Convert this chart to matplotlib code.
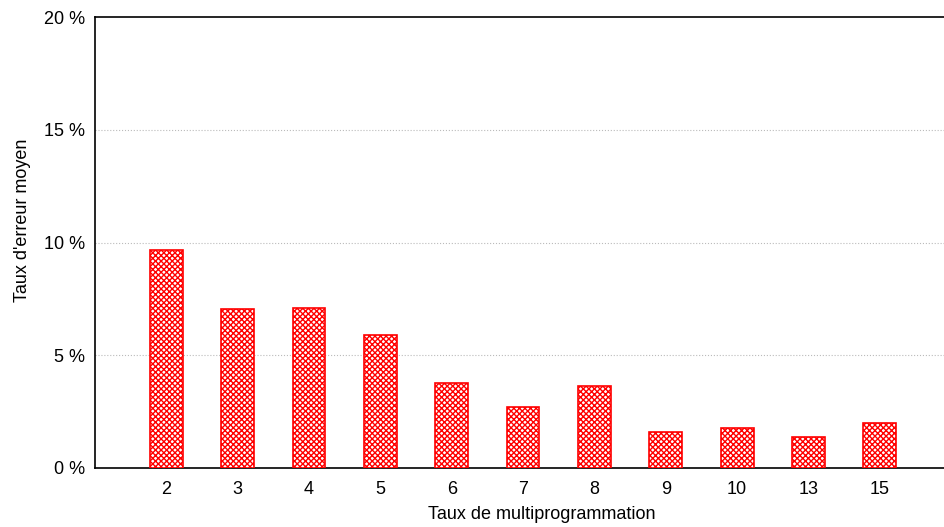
import numpy as np
import matplotlib.pyplot as plt

plt.rcParams['font.family'] = ['Liberation Sans', 'DejaVu Sans']
plt.rcParams['hatch.linewidth'] = 1.0

# Données
categories = ['2', '3', '4', '5', '6', '7', '8', '9', '10', '13', '15']
erreurs = [9.67, 7.05, 7.1, 5.9, 3.77, 2.7, 3.64, 1.6, 1.77, 1.37, 2.0]
yticks = [0, 5, 10, 15, 20]

fig = plt.figure(figsize=(9.44, 5.27), dpi=100)
ax = fig.add_axes([95 / 944, 1 - 468 / 527, 1 - 95 / 944, (468 - 17) / 527])

x = np.arange(len(categories))
ax.bar(x, erreurs, width=0.46, facecolor='white', edgecolor='red',
       hatch='xxxxxx', linewidth=1.2, zorder=3)

ax.set_xlim(-1, 10.9)
ax.set_ylim(0, 20)
ax.set_xticks(x)
ax.set_xticklabels(categories)
ax.set_yticks(yticks)
ax.set_yticklabels([f'{v} %' for v in yticks])
ax.tick_params(length=0, labelsize=13)
ax.tick_params(axis='x', pad=9)
ax.tick_params(axis='y', pad=7)

for v in [5, 10, 15]:
    ax.axhline(v, color='#bbbbbb', linestyle=':', linewidth=0.8, zorder=1)

ax.spines['right'].set_visible(False)
for s in ['top', 'left', 'bottom']:
    ax.spines[s].set_linewidth(1.2)

ax.set_xlabel('Taux de multiprogrammation', fontsize=13)
ax.set_ylabel("Taux d'erreur moyen", fontsize=13)
ax.xaxis.set_label_coords((542 - 95) / 849, -0.085)
ax.yaxis.set_label_coords(-0.075, 0.55)

fig.savefig('out.png', dpi=100)
